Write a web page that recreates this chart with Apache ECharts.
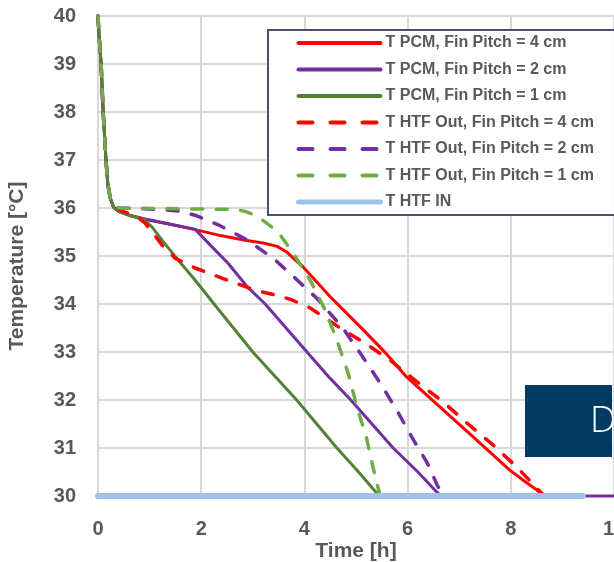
<!DOCTYPE html>
<html>
<head>
<meta charset="utf-8">
<script src="https://cdn.jsdelivr.net/npm/echarts@6/dist/echarts.min.js"></script>
<style>
html,body{margin:0;padding:0;background:#fff;}
#chart{width:614px;height:562px;}
</style>
</head>
<body>
<div id="chart"></div>
<script>
// ---- Data (time in h, temperature in °C) ----
var seriesNames = [
  'T PCM, Fin Pitch = 4 cm',
  'T PCM, Fin Pitch = 2 cm',
  'T PCM, Fin Pitch = 1 cm',
  'T HTF Out, Fin Pitch = 4 cm',
  'T HTF Out, Fin Pitch = 2 cm',
  'T HTF Out, Fin Pitch = 1 cm',
  'T HTF IN'
];
var xTicks = [0, 2, 4, 6, 8, 10];
var yTicks = [30, 31, 32, 33, 34, 35, 36, 37, 38, 39, 40];

var pcm4 = [[0,40],[0.02,39.6],[0.06,39.0],[0.1,38.0],[0.155,37.0],[0.19,36.5],[0.24,36.2],[0.3,36.02],[0.4,35.93],[0.6,35.85],[0.9,35.77],[1.4,35.66],[1.88,35.55],[2.4,35.42],[2.85,35.33],[3.2,35.27],[3.47,35.2],[3.65,35.09],[3.82,34.92],[3.95,34.8],[4.5,34.15],[5.14,33.46],[5.6,32.95],[5.98,32.48],[6.63,31.85],[7.27,31.23],[7.98,30.54],[8.3,30.28],[8.5,30.13],[8.66,30.0]];
var pcm2 = [[0,40],[0.02,39.6],[0.06,39.0],[0.1,38.0],[0.155,37.0],[0.19,36.5],[0.24,36.2],[0.3,36.02],[0.4,35.93],[0.6,35.85],[0.9,35.77],[1.4,35.66],[1.88,35.56],[2.2,35.2],[2.52,34.85],[2.9,34.35],[3.24,34.0],[4.05,33.0],[4.5,32.45],[4.9,32.0],[5.72,31.0],[6.2,30.5],[6.55,30.1],[6.65,30.0],[10,30.0]];
var pcm1 = [[0,40],[0.02,39.6],[0.06,39.0],[0.1,38.0],[0.155,37.0],[0.19,36.5],[0.24,36.2],[0.3,36.02],[0.4,35.93],[0.6,35.85],[0.9,35.76],[1.05,35.6],[1.24,35.33],[1.55,34.92],[1.88,34.5],[2.25,34.0],[3.0,33.0],[3.85,32.0],[4.63,31.0],[5.05,30.5],[5.45,30.0]];
var out4 = [[0,40],[0.02,39.6],[0.06,39.0],[0.1,38.0],[0.155,37.0],[0.19,36.5],[0.24,36.2],[0.3,36.04],[0.5,35.92],[0.75,35.82],[0.91,35.69],[1.05,35.5],[1.24,35.23],[1.5,34.95],[1.88,34.75],[2.4,34.54],[3.04,34.29],[3.5,34.17],[3.72,34.1],[4.11,33.92],[4.75,33.46],[5.14,33.21],[5.66,32.83],[6.18,32.38],[6.69,31.96],[7.15,31.52],[7.66,31.06],[8.12,30.6],[8.5,30.17],[8.65,30.0]];
var out2 = [[0,40],[0.02,39.6],[0.06,39.0],[0.1,38.0],[0.155,37.0],[0.19,36.5],[0.24,36.2],[0.3,36.05],[0.4,36.0],[1.24,35.97],[1.6,35.93],[1.88,35.85],[2.33,35.65],[2.9,35.33],[3.43,34.92],[3.82,34.54],[4.24,34.12],[4.73,33.52],[5.08,32.98],[5.47,32.35],[5.79,31.79],[6.08,31.23],[6.38,30.69],[6.59,30.19],[6.72,30.0]];
var out1 = [[0,40],[0.02,39.6],[0.06,39.0],[0.1,38.0],[0.155,37.0],[0.19,36.5],[0.24,36.2],[0.3,36.05],[0.4,36.0],[2.65,35.97],[2.85,35.93],[3.04,35.85],[3.25,35.7],[3.49,35.5],[3.78,35.06],[4.11,34.5],[4.4,33.88],[4.63,33.25],[4.85,32.55],[5.02,31.85],[5.2,31.23],[5.33,30.6],[5.42,30.2],[5.47,30.0]];
var htfIn = [[0,30],[9.4,30]];

var seriesData = [pcm4, pcm2, pcm1, out4, out2, out1, htfIn];
var colors = ['#FF0000', '#7030A0', '#548235', '#FF0000', '#7030A0', '#70AD47', '#9DC3E6'];
var widths = [3, 3, 3, 3.5, 3.5, 3.5, 6];
var legendWidths = [4, 4, 4, 4, 4, 4, 5];
var dashed = [false, false, false, true, true, true, false];

var FONT = '"Liberation Sans", Arial, sans-serif';
var TXT = '#595959';

var chart = echarts.init(document.getElementById('chart'), null, {renderer: 'canvas'});

var series = seriesData.map(function (d, i) {
  return {
    name: seriesNames[i],
    type: 'line',
    data: d,
    symbol: 'none',
    showSymbol: false,
    smooth: false,
    clip: false,
    animation: false,
    lineStyle: {
      color: colors[i],
      width: widths[i],
      type: dashed[i] ? [11, 13.5] : 'solid',
      cap: 'round',
      join: 'round'
    },
    itemStyle: {color: colors[i]}
  };
});

var X_LABEL_MARGIN = 20;
var X_LABEL_TARGET_CY = 529;

chart.setOption({
  animation: false,
  backgroundColor: '#ffffff',
  grid: {left: 98, right: 0, top: 16, bottom: 66, containLabel: false, outerBoundsMode: 'none'},
  xAxis: {
    type: 'value',
    min: 0, max: 10, interval: 2,
    axisLine: {show: true, lineStyle: {color: '#D9D9D9', width: 2}},
    axisTick: {show: false},
    axisLabel: {
      margin: X_LABEL_MARGIN, fontFamily: FONT, fontWeight: 'bold', fontSize: 20, color: TXT,
      formatter: function (v) { return xTicks.indexOf(v) >= 0 ? String(v) : ''; }
    },
    splitLine: {show: true, lineStyle: {color: '#D9D9D9', width: 2}}
  },
  yAxis: {
    type: 'value',
    min: 30, max: 40, interval: 1,
    axisLine: {show: true, lineStyle: {color: '#D9D9D9', width: 2}},
    axisTick: {show: false},
    axisLabel: {
      margin: 22, fontFamily: FONT, fontWeight: 'bold', fontSize: 20, color: TXT,
      formatter: function (v) { return yTicks.indexOf(v) >= 0 ? String(v) : ''; }
    },
    splitLine: {show: true, lineStyle: {color: '#D9D9D9', width: 2}}
  },
  legend: {
    show: true,
    orient: 'vertical',
    left: 268, top: 30,
    padding: [5, 21, 5, 28],
    itemWidth: 82, itemHeight: 16, itemGap: 10.5,
    backgroundColor: '#ffffff',
    borderColor: '#44546A', borderWidth: 2,
    selectedMode: false,
    itemStyle: {opacity: 0},
    textStyle: {fontFamily: FONT, fontWeight: 'bold', fontSize: 16, color: TXT, lineHeight: 16},
    data: seriesNames.map(function (n, i) {
      return {
        name: n,
        itemStyle: {opacity: 0},
        lineStyle: {
          color: colors[i],
          width: legendWidths[i],
          type: dashed[i] ? [14, 18] : 'solid',
          cap: 'round'
        }
      };
    })
  },
  graphic: [
    {
      type: 'text',
      x: 17, y: 266,
      rotation: Math.PI / 2,
      style: {text: 'Temperature [°C]', fill: TXT, font: 'bold 21px ' + FONT, align: 'center', verticalAlign: 'middle'}
    },
    {
      type: 'text',
      x: 356, y: 551,
      style: {text: 'Time [h]', fill: TXT, font: 'bold 21px ' + FONT, align: 'center', verticalAlign: 'middle'}
    },
    {
      type: 'rect',
      shape: {x: 525, y: 385, width: 87, height: 72},
      style: {fill: '#023A63'},
      z: 100
    },
    {
      type: 'text',
      x: 590, y: 421,
      style: {text: 'D', fill: '#ffffff', font: '300 37px "Open Sans", sans-serif', align: 'left', verticalAlign: 'middle'},
      z: 101
    }
  ],
  series: series
});

// Keep the x tick labels at the intended vertical position.
function xLabelCenterY() {
  var cy = null;
  chart.getZr().storage.getDisplayList(true).forEach(function (el) {
    if (cy === null && el.style && el.style.text === '4' && el.getBoundingRect) {
      var r = el.getBoundingRect().clone();
      var m = el.getComputedTransform ? el.getComputedTransform() : null;
      if (m) { r.applyTransform(m); }
      cy = r.y + r.height / 2;
    }
  });
  return cy;
}
var cy = xLabelCenterY();
if (cy !== null && Math.abs(cy - X_LABEL_TARGET_CY) > 1) {
  chart.setOption({xAxis: {axisLabel: {margin: X_LABEL_MARGIN + (X_LABEL_TARGET_CY - cy)}}});
}
</script>
</body>
</html>
